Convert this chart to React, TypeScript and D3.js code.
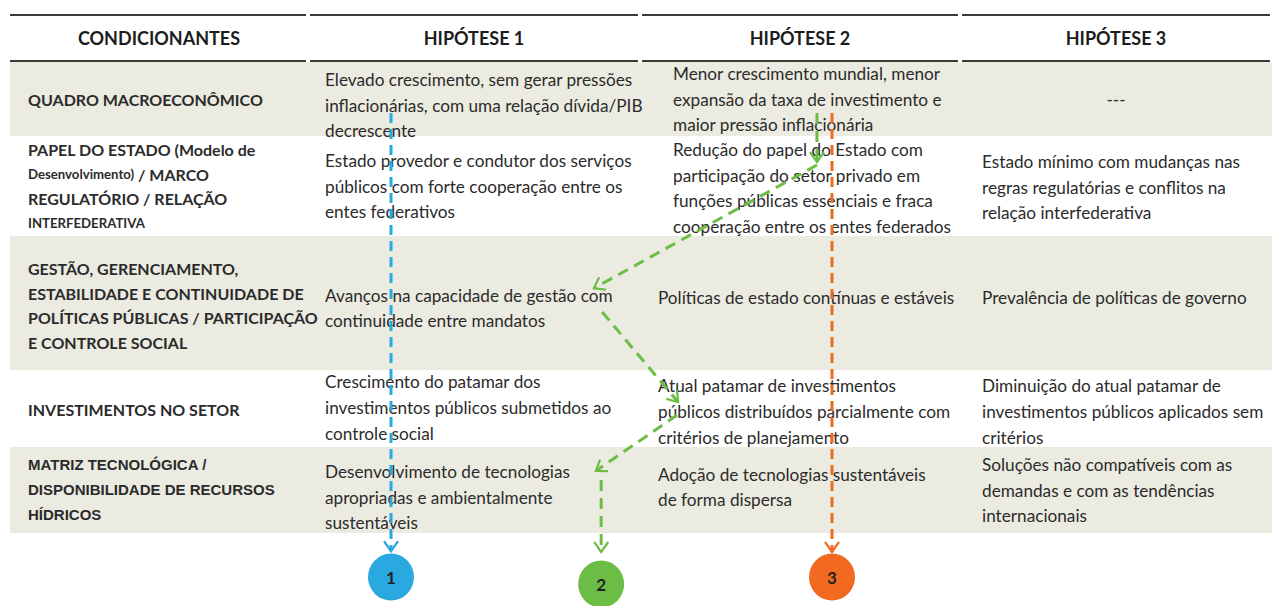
import React from 'react';
import * as d3 from 'd3';

const columnTitles = ['CONDICIONANTES', 'HIPÓTESE 1', 'HIPÓTESE 2', 'HIPÓTESE 3'];

// row labels; text in {braces} is set in the smaller size
const conditions = [
  ['QUADRO MACROECONÔMICO'],
  ['PAPEL DO ESTADO (Modelo de', '{Desenvolvimento)} / MARCO', 'REGULATÓRIO / RELAÇÃO', '{INTERFEDERATIVA}'],
  ['GESTÃO, GERENCIAMENTO,', 'ESTABILIDADE E CONTINUIDADE DE', 'POLÍTICAS PÚBLICAS / PARTICIPAÇÃO', 'E CONTROLE SOCIAL'],
  ['INVESTIMENTOS NO SETOR'],
  ['MATRIZ TECNOLÓGICA /', 'DISPONIBILIDADE DE RECURSOS', 'HÍDRICOS'],
];

const hypothesis1 = [
  ['Elevado crescimento, sem gerar pressões', 'inflacionárias, com uma relação dívida/PIB', 'decrescente'],
  ['Estado provedor e condutor dos serviços', 'públicos com forte cooperação entre os', 'entes federativos'],
  ['Avanços na capacidade de gestão com', 'continuidade entre mandatos'],
  ['Crescimento do patamar dos', 'investimentos públicos submetidos ao', 'controle social'],
  ['Desenvolvimento de tecnologias', 'apropriadas e ambientalmente', 'sustentáveis'],
];

const hypothesis2 = [
  ['Menor crescimento mundial, menor', 'expansão da taxa de investimento e', 'maior pressão inflacionária'],
  ['Redução do papel do Estado com', 'participação do setor privado em', 'funções públicas essenciais e fraca', 'cooperação entre os entes federados'],
  ['Políticas de estado contínuas e estáveis'],
  ['Atual patamar de investimentos', 'públicos distribuídos parcialmente com', 'critérios de planejamento'],
  ['Adoção de tecnologias sustentáveis', 'de forma dispersa'],
];

const hypothesis3 = [
  ['---'],
  ['Estado mínimo com mudanças nas', 'regras regulatórias e conflitos na', 'relação interfederativa'],
  ['Prevalência de políticas de governo'],
  ['Diminuição do atual patamar de', 'investimentos públicos aplicados sem', 'critérios'],
  ['Soluções não compatíveis com as', 'demandas e com as tendências', 'internacionais'],
];

// scenario routes in table units: [column, row] (fractional)
const scenarioNames = ['1', '2', '3'];
const route1 = [[[1.25, 0.69], [1.25, 5.25]]];
const route2 = [
  [[2.553, 0.69], [2.553, 1.26]],
  [[2.553, 1.29], [1.861, 2.39]],
  [[1.886, 2.567], [2.119, 3.416]],
  [[2.116, 3.584], [1.867, 4.279]],
  [[1.883, 4.384], [1.883, 5.26]],
];
const route3 = [[[2.6, 0.69], [2.6, 5.26]]];
const endpoints = [[1.25, 5.603], [1.883, 5.699], [2.6, 5.603]];

const W = 1272;
const H = 606;
const colors = ['#29a9e0', '#6cbd45', '#f26a22'];
const shade = '#ecebe1';
const ink = '#2b2b2b';
const bodyFont = 'Lato, sans-serif';

// column and row boundaries
const x = d3.scaleLinear().domain([0, 1, 2, 3, 4]).range([10, 308, 640, 960, 1272]);
const y = d3.scaleLinear().domain([0, 1, 2, 3, 4, 5, 6]).range([62, 136, 236, 370, 447, 533, 606]);

// little per-cell nudges so the text sits like the original
const padX = [18, 17, 18, 22];
const nudgeX2 = [15, 15, 0, 0, 0];
const nudgeY = [
  [0, 6, 0, 0],
  [0, 0, 2, 1],
  [2, 5, -6, -6],
  [0, -1, 3, 3],
  [-1, 7, -3, 0],
];

const line = d3.line<number[]>().x(d => x(d[0])).y(d => y(d[1]));

function LabelLine({ text }: { text: string }) {
  const parts = text.split(/(\{[^}]*\})/).filter(p => p.length);
  return (
    <>
      {parts.map((p, i) =>
        p.startsWith('{') ? (
          <tspan key={i} fontSize={13.2}>{p.slice(1, -1)}</tspan>
        ) : (
          <tspan key={i}>{p}</tspan>
        )
      )}
    </>
  );
}

export default function App() {
  const columns = [conditions, hypothesis1, hypothesis2, hypothesis3];
  const routes = [route1, route2, route3];

  return (
    <svg width={W} height={H} style={{ position: 'absolute', left: 0, top: 0, background: '#fff' }}>
      <defs>
        {colors.map((c, i) => (
          <marker key={i} id={`arrow-${i}`} viewBox="-12 -8 14 16" refX={0} refY={0}
            markerWidth={14} markerHeight={16} markerUnits="userSpaceOnUse" orient="auto">
            <path d="M-10,-7L0,0L-10,7" fill="none" stroke={c} strokeWidth={2.2} />
          </marker>
        ))}
      </defs>

      {/* shaded rows */}
      {conditions.map((_, r) =>
        r % 2 === 0 ? (
          <rect key={r} x={x(0)} y={y(r)} width={x(4) - x(0)} height={y(r + 1) - y(r)} fill={shade} />
        ) : null
      )}

      {/* header rules */}
      {[15, 61].map(yy =>
        columnTitles.map((_, c) => (
          <line key={`${yy}-${c}`} x1={x(c) + (c > 0 ? 2 : 0)} x2={x(c + 1) - 2} y1={yy} y2={yy}
            stroke="#3c3c3c" strokeWidth={2} />
        ))
      )}

      {columnTitles.map((t, c) => (
        <text key={t} x={(x(c) + x(c + 1)) / 2} y={37.5} textAnchor="middle" dominantBaseline="central"
          fontFamily={bodyFont} fontWeight={700} fontSize={18} fill="#1c1c1c">{t}</text>
      ))}

      {/* cells */}
      {columns.map((col, c) =>
        col.map((lines, r) => {
          const isLabel = c === 0;
          const lh = isLabel ? 24.7 : 25.7;
          const cy = (y(r) + y(r + 1)) / 2 + nudgeY[r][c];
          const centered = lines.length === 1 && lines[0] === '---';
          const tx = centered ? (x(c) + x(c + 1)) / 2 : x(c) + padX[c] + (c === 2 ? nudgeX2[r] : 0);
          const arial = isLabel && r === 4;
          return (
            <g key={`${c}-${r}`}>
              {lines.map((l, i) => (
                <text key={i} x={tx} y={cy + (i - (lines.length - 1) / 2) * lh}
                  dominantBaseline="central" textAnchor={centered ? 'middle' : 'start'}
                  fontFamily={arial ? '"Liberation Sans", Arial, sans-serif' : bodyFont}
                  fontWeight={isLabel ? 700 : 400} fontSize={isLabel ? (arial ? 15 : 16) : 17.2}
                  fill={ink}>
                  {isLabel ? <LabelLine text={l} /> : l}
                </text>
              ))}
            </g>
          );
        })
      )}

      {/* scenario routes */}
      {routes.map((segs, s) =>
        segs.map((seg, k) => (
          <path key={`${s}-${k}`} d={line(seg) || ''} fill="none" stroke={colors[s]} strokeWidth={3}
            strokeDasharray={s === 1 ? '11 7' : '10 6'} markerEnd={`url(#arrow-${s})`} />
        ))
      )}

      {endpoints.map((p, s) => (
        <g key={s} transform={`translate(${x(p[0])},${y(p[1])})`}>
          <ellipse rx={23} ry={23.5} fill={colors[s]} />
          <text textAnchor="middle" dominantBaseline="central" fontFamily={bodyFont} fontWeight={700}
            fontSize={17} fill="#222">{scenarioNames[s]}</text>
        </g>
      ))}
    </svg>
  );
}
